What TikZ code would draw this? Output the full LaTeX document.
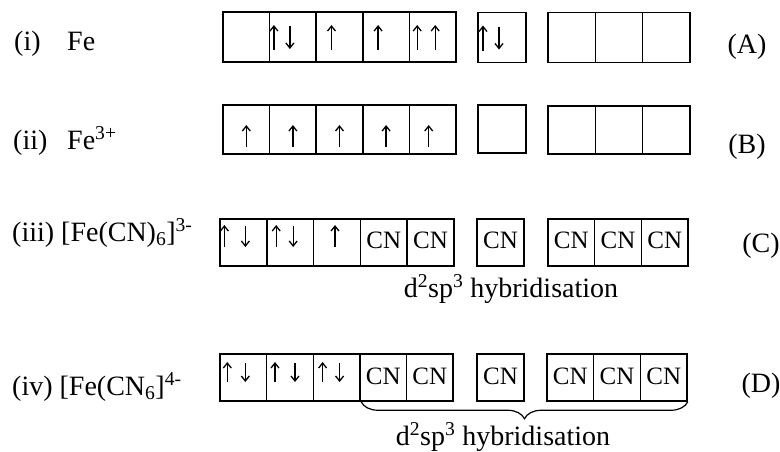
\documentclass[tikz,border=0pt]{standalone}
\usepackage{fontspec}
\setmainfont{Liberation Serif}
\usetikzlibrary{arrows.meta,calc,decorations.pathreplacing}
\newcommand{\spin}[4]{\draw[spinline] ($(#1.center)+(#2,#3)$) -- ($(#1.center)+(#2,#4)$);}
\begin{document}
\begin{tikzpicture}[x=1pt,y=-1pt,
  box/.style={draw, line width=1.5pt, minimum height=#1, inner sep=0pt},
  boxA/.style={box=50pt, minimum width=46.6pt},
  boxC/.style={box=47pt, minimum width=46.8pt},
  cn/.style={font=\fontsize{25}{27}\selectfont},
  lab/.style={anchor=base west, inner sep=0pt, font=\fontsize{28}{32}\selectfont},
  tag/.style={anchor=base, inner sep=0pt, font=\fontsize{28}{32}\selectfont},
  spinline/.style={line width=1.3pt, -{Straight Barb[length=5pt,width=8pt,line width=1.3pt]}}]
\useasboundingbox (0,0) rectangle (780,451);
% ---------- Row A ----------
\node[lab] (iA) at (14,50) {(i)};
\node[lab] (feA) at (67,50) {Fe};
\foreach \i/\x in {1/246.3,2/292.9,3/339.5,4/386.1,5/432.7}
  \node[boxA] (A\i) at (\x,37) {};
\node[box=50pt, minimum width=48pt] (As) at (502,37.5) {};
\foreach \i/\x in {1/571.7,2/619,3/666.3}
  \node[box=50pt, minimum width=47.3pt] (Ap\i) at (\x,37.5) {};
\node[tag] (tA) at (747,53) {(A)};
\spin{A2}{-19}{13}{-12}
\spin{A2}{-3}{-11}{12}
\spin{A3}{-8}{13}{-12}
\spin{A4}{-8}{13}{-12}
\spin{A5}{-15.5}{13}{-12}
\spin{A5}{2.5}{13}{-12}
\spin{As}{-19}{13}{-12}
\spin{As}{-3}{-11}{12}
% ---------- Row B ----------
\node[lab] (iB) at (13,149) {(ii)};
\node[lab] (feB) at (67,149) {Fe\textsuperscript{3+}};
\foreach \i/\x in {1/246.3,2/292.9,3/339.5,4/386.1,5/432.7}
  \node[boxA, minimum height=49pt] (B\i) at (\x,129.5) {};
\node[box=48pt, minimum width=48pt] (Bs) at (502,129) {};
\foreach \i/\x in {1/571.7,2/619,3/666.3}
  \node[box=48pt, minimum width=47.3pt] (Bp\i) at (\x,130) {};
\node[tag] (tB) at (747,153) {(B)};
\spin{B1}{0}{17.5}{-4.5}
\spin{B2}{0}{17.5}{-4.5}
\spin{B3}{0}{17.5}{-4.5}
\spin{B4}{0}{17.5}{-4.5}
\spin{B5}{-4}{17.5}{-4.5}
% ---------- Row C ----------
\node[lab] (iC) at (12,241) {(iii) [Fe(CN)\textsubscript{6}]\textsuperscript{3-}};
\foreach \i/\x in {1/243.4,2/290.2,3/337,4/383.8,5/430.6}
  \node[boxC] (C\i) at (\x,242.5) {};
\node[box=47pt, minimum width=47pt] (Cs) at (500.5,242.5) {};
\foreach \i/\x in {1/571.3,2/618,3/664.7}
  \node[box=47pt, minimum width=46.7pt] (Cp\i) at (\x,242.5) {};
\node[cn] (cnC4) at ($(C4.center)+(0,-2)$) {CN};
\node[cn] (cnC5) at ($(C5.center)+(0,-2)$) {CN};
\node[cn] (cnCs) at ($(Cs.center)+(0,-2)$) {CN};
\node[cn] (cnCp1) at ($(Cp1.center)+(0,-2)$) {CN};
\node[cn] (cnCp2) at ($(Cp2.center)+(0,-2)$) {CN};
\node[cn] (cnCp3) at ($(Cp3.center)+(0,-2)$) {CN};
\spin{C1}{-19}{4.5}{-17.5}
\spin{C1}{2}{-16.5}{4.5}
\spin{C2}{-14}{4.5}{-17.5}
\spin{C2}{3}{-16.5}{4.5}
\spin{C3}{-2}{4.5}{-17.5}
\node[tag] (tC) at (761,252) {(C)};
\node[tag] (hC) at (511,297) {d\textsuperscript{2}sp\textsuperscript{3} hybridisation};
% ---------- Row D ----------
\node[lab] (iD) at (12,395) {(iv) [Fe(CN\textsubscript{6}]\textsuperscript{4-}};
\foreach \i/\x in {1/243.3,2/290,3/336.6,4/383.2,5/429.8}
  \node[boxC, minimum width=46.6pt] (D\i) at (\x,377.5) {};
\node[box=47pt, minimum width=47pt] (Ds) at (500.5,377.5) {};
\foreach \i/\x in {1/570.3,2/617,3/663.7}
  \node[box=47pt, minimum width=46.7pt] (Dp\i) at (\x,377.5) {};
\node[cn] (cnD4) at ($(D4.center)+(0,-1)$) {CN};
\node[cn] (cnD5) at ($(D5.center)+(0,-1)$) {CN};
\node[cn] (cnDs) at ($(Ds.center)+(0,-1)$) {CN};
\node[cn] (cnDp1) at ($(Dp1.center)+(0,-1)$) {CN};
\node[cn] (cnDp2) at ($(Dp2.center)+(0,-1)$) {CN};
\node[cn] (cnDp3) at ($(Dp3.center)+(0,-1)$) {CN};
\spin{D1}{-16}{4.5}{-15.5}
\spin{D1}{2}{-14.5}{4.5}
\spin{D2}{-15}{4.5}{-15.5}
\spin{D2}{5}{-14.5}{4.5}
\spin{D3}{-14}{4.5}{-15.5}
\spin{D3}{3}{-14.5}{4.5}
\node[tag] (tD) at (761,392) {(D)};
\coordinate (brL) at ($(D4.south west)+(2,0)$);
\coordinate (brR) at (Dp3.south east);
\draw[line width=1.2pt, decorate, decoration={brace, mirror, amplitude=17pt, raise=0pt}]
  (brL) -- (brR);
\node[tag] (hD) at (503,445) {d\textsuperscript{2}sp\textsuperscript{3} hybridisation};
\end{tikzpicture}
\end{document}
